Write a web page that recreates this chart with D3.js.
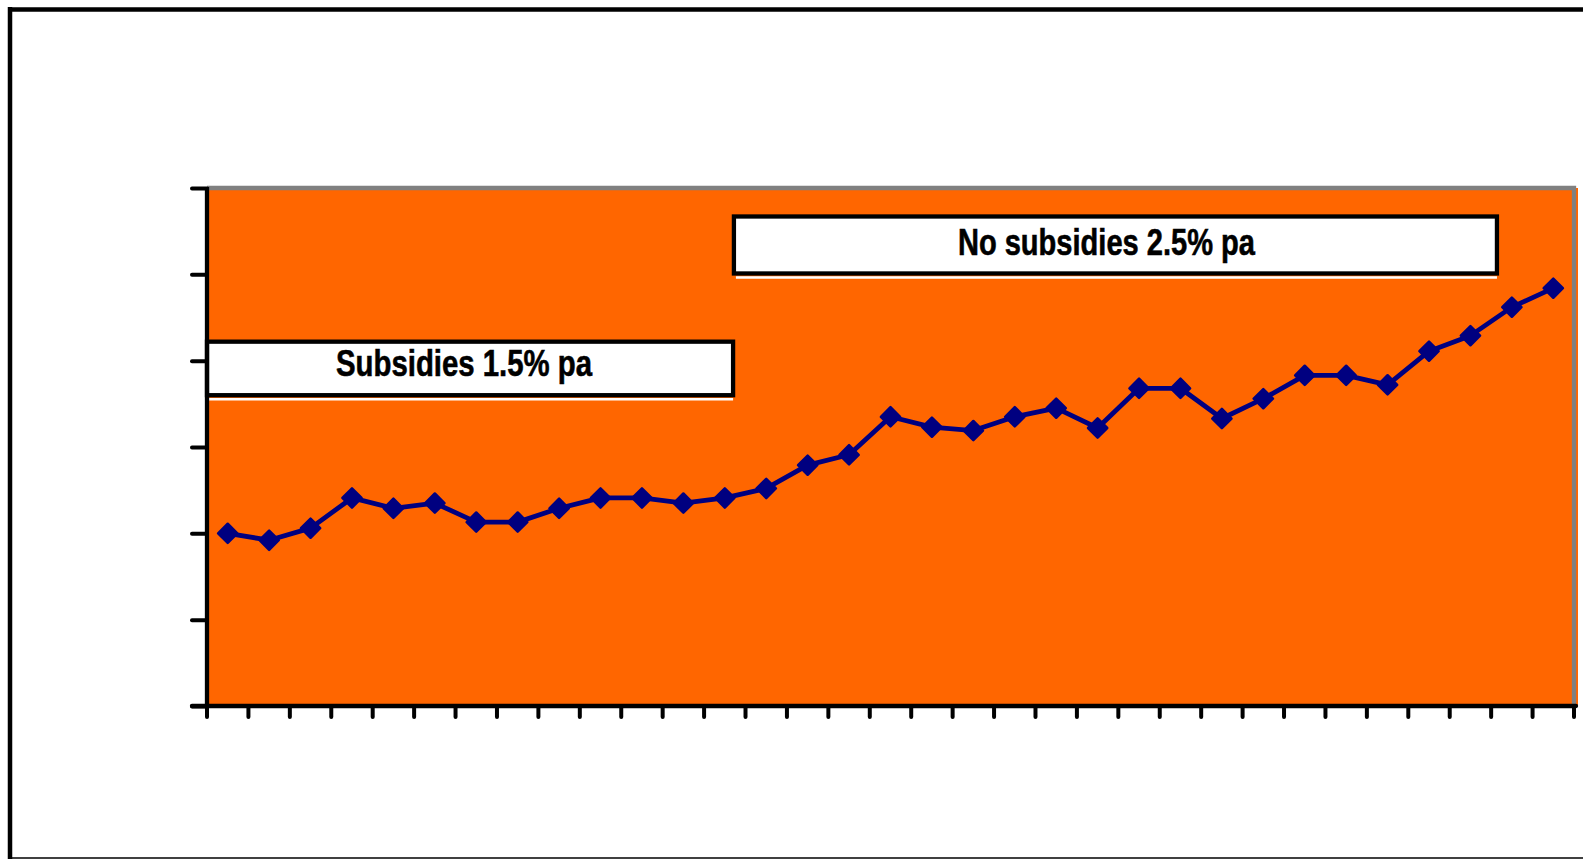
<!DOCTYPE html>
<meta charset="utf-8">
<style>
	html, body { margin: 0; padding: 0; background: #ffffff; overflow: hidden; }
	svg { display: block; }
	.note text { font-family: "Liberation Sans Narrow", "Arial Narrow", "Liberation Sans", Arial, sans-serif; font-weight: bold; }
</style>
<body>
<div id="chartBx"></div>
<script src="https://cdn.jsdelivr.net/npm/d3@7"></script>
<script>

	// chart values (no axis labels shown in the original)
	var periods = d3.range(1, 34);
	var values = [2.00, 1.92, 2.06, 2.41, 2.29, 2.35, 2.13, 2.13, 2.29, 2.41,
	              2.41, 2.35, 2.41, 2.52, 2.79, 2.91, 3.35, 3.23, 3.19, 3.35,
	              3.45, 3.22, 3.68, 3.68, 3.33, 3.56, 3.83, 3.83, 3.72, 4.11,
	              4.29, 4.62, 4.84];
	var yTicks = [0, 1, 2, 3, 4, 5, 6];
	var noteLabels = ["Subsidies 1.5% pa", "No subsidies 2.5% pa"];

	makeLineChart("chartBx", 1583, 859);

	function makeLineChart(div_id, W, H) {

		var plot = {left: 207, right: 1574, top: 188, bottom: 706};

		var svg = d3.select("#" + div_id).append("svg")
			.attr("width", W)
			.attr("height", H);

		// outer frame
		svg.append("line").attr("x1", 8).attr("x2", W + 10).attr("y1", 9.5).attr("y2", 9.5)
			.attr("stroke", "#000").attr("stroke-width", 4.5);
		svg.append("line").attr("x1", 10).attr("x2", 10).attr("y1", 7).attr("y2", H + 2)
			.attr("stroke", "#000").attr("stroke-width", 4.5);
		svg.append("line").attr("x1", 8).attr("x2", W).attr("y1", H - 1).attr("y2", H - 1)
			.attr("stroke", "#000").attr("stroke-width", 1.5);

		// scales
		var x = d3.scaleBand().domain(periods).range([plot.left, plot.right]).padding(0);
		var y = d3.scaleLinear().domain([0, 6]).range([plot.bottom, plot.top]);

		// plot area
		svg.append("rect")
			.attr("x", plot.left).attr("y", plot.top)
			.attr("width", plot.right - plot.left + 4)
			.attr("height", plot.bottom - plot.top)
			.attr("fill", "#ff6600");
		svg.append("path")
			.attr("d", "M" + plot.left + "," + plot.top + "H" + plot.right + "V" + plot.bottom)
			.attr("fill", "none")
			.attr("stroke", "#808080")
			.attr("stroke-width", 4.3);

		// annotation boxes (band index / value units)
		var notes = [
			{label: noteLabels[0], i0: 0, i1: 12.7, top: 4.22, bot: 3.60, dx: -6, dy: 8},
			{label: noteLabels[1], i0: 12.72, i1: 31.14, top: 5.67, bot: 5.01, dx: -9, dy: 10}
		];
		var bw = x.bandwidth();
		var noteG = svg.append("g").attr("class", "note");
		notes.forEach(function(n, k) {
			var x0 = plot.left + n.i0 * bw, x1 = plot.left + n.i1 * bw;
			var y0 = y(n.top), y1 = y(n.bot);
			noteG.append("line")
				.attr("x1", x0 + 2).attr("x2", x1).attr("y1", y1 + 4).attr("y2", y1 + 4)
				.attr("stroke", "#fff").attr("stroke-width", 2.5);
			noteG.append("rect")
				.attr("x", x0).attr("y", y0)
				.attr("width", x1 - x0).attr("height", y1 - y0)
				.attr("fill", "#fff")
				.attr("stroke", "#000")
				.attr("stroke-width", 4.3);
			noteG.append("text")
				.attr("x", (x0 + x1) / 2 + n.dx)
				.attr("y", (y0 + y1) / 2 + n.dy)
				.attr("text-anchor", "middle")
				.attr("font-size", 37)
				.attr("stroke", "#000")
				.attr("stroke-width", 0.6)
				.attr("textLength", k === 0 ? 256 : 297)
				.attr("lengthAdjust", "spacingAndGlyphs")
				.text(n.label);
		});

		// axes
		var yAxis = d3.axisLeft(y).tickValues(yTicks).tickSize(15).tickFormat("");
		var gy = svg.append("g").attr("transform", "translate(" + plot.left + ",0)").call(yAxis);
		gy.select(".domain").remove();
		gy.selectAll(".tick line").attr("stroke", "#000").attr("stroke-width", 4).attr("stroke-linecap", "round");

		var xEdges = periods.map(function(p) { return x(p); }).concat([plot.right]);
		var gx = svg.append("g").attr("class", "xaxis");
		gx.selectAll("line.tick")
			.data(xEdges)
			.enter().append("line")
			.attr("x1", function(d) { return d; }).attr("x2", function(d) { return d; })
			.attr("y1", plot.bottom).attr("y2", plot.bottom + 11)
			.attr("stroke", "#000").attr("stroke-width", 4).attr("stroke-linecap", "round");

		svg.append("line")
			.attr("x1", plot.left).attr("x2", plot.left)
			.attr("y1", plot.top - 1).attr("y2", plot.bottom)
			.attr("stroke", "#000").attr("stroke-width", 4.3);
		svg.append("line")
			.attr("x1", plot.left - 15).attr("x2", plot.right + 2)
			.attr("y1", plot.bottom).attr("y2", plot.bottom)
			.attr("stroke", "#000").attr("stroke-width", 4.3).attr("stroke-linecap", "round");

		// series line
		var data = periods.map(function(p, i) { return {p: p, v: values[i]}; });
		var line = d3.line()
			.x(function(d) { return x(d.p) + bw / 2; })
			.y(function(d) { return y(d.v); });

		svg.append("path")
			.datum(data)
			.attr("d", line)
			.attr("fill", "none")
			.attr("stroke", "#000080")
			.attr("stroke-width", 4.8)
			.attr("stroke-linejoin", "round");

		var diamond = d3.symbol().type(d3.symbolSquare).size(185);
		svg.append("g").selectAll("path")
			.data(data)
			.enter().append("path")
			.attr("d", diamond)
			.attr("transform", function(d) { return "translate(" + (x(d.p) + bw / 2) + "," + y(d.v) + ") rotate(45)"; })
			.attr("fill", "#000080")
			.attr("stroke", "#000080")
			.attr("stroke-width", 2.5)
			.attr("stroke-linejoin", "round");
	}

</script>
</body>
